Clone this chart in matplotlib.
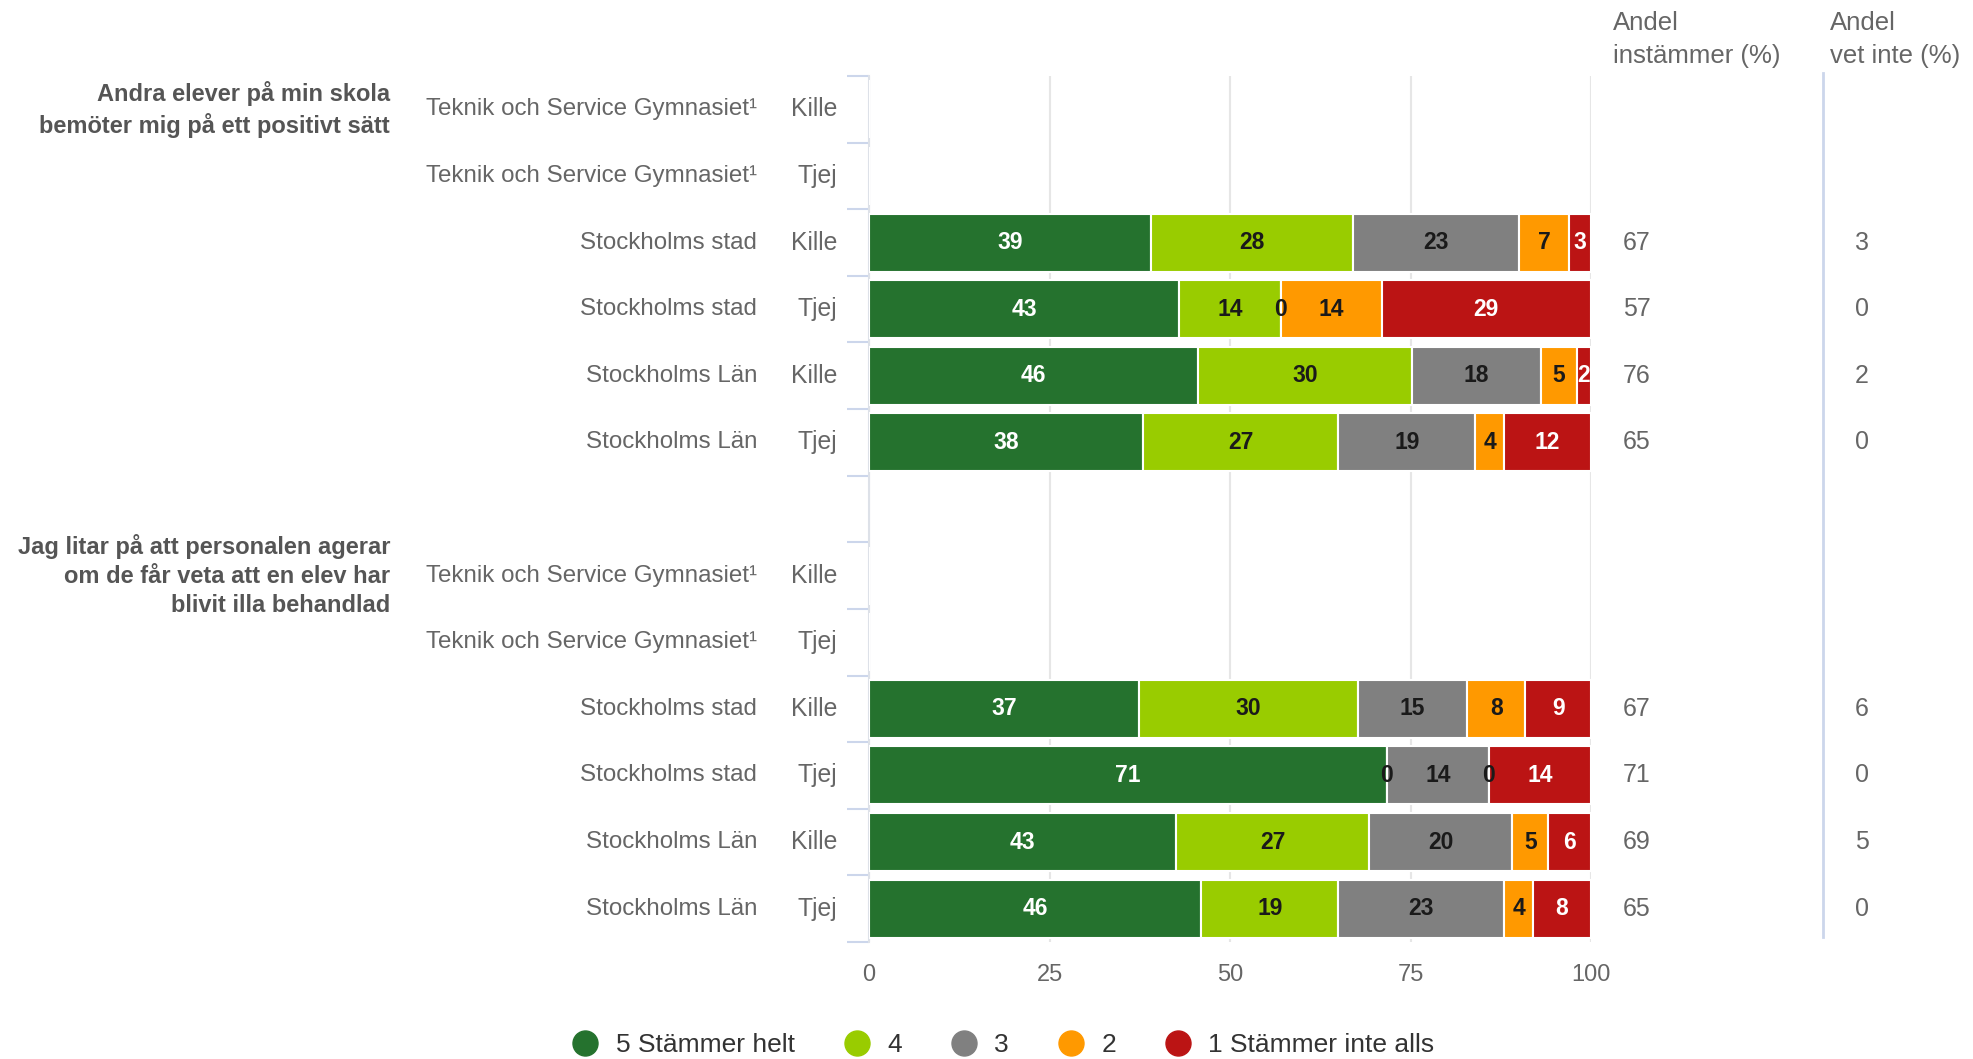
import numpy as np
import matplotlib.pyplot as plt
from matplotlib.lines import Line2D
from matplotlib.transforms import blended_transform_factory

plt.rcParams['font.family'] = ['Liberation Sans', 'DejaVu Sans']

# --- data -------------------------------------------------------------
groups = [
    "Andra elever på min skola\nbemöter mig på ett positivt sätt",
    "Jag litar på att personalen agerar\nom de får veta att en elev har\nblivit illa behandlad",
]
units = ["Teknik och Service Gymnasiet\u00b9", "Teknik och Service Gymnasiet\u00b9",
         "Stockholms stad", "Stockholms stad", "Stockholms Län", "Stockholms Län"] * 2
genders = ["Kille", "Tjej"] * 6

nan = np.nan
s5 = [nan, nan, 39, 43, 46, 38, nan, nan, 37, 71, 43, 46]
s4 = [nan, nan, 28, 14, 30, 27, nan, nan, 30, 0, 27, 19]
s3 = [nan, nan, 23, 0, 18, 19, nan, nan, 15, 14, 20, 23]
s2 = [nan, nan, 7, 14, 5, 4, nan, nan, 8, 0, 5, 4]
s1 = [nan, nan, 3, 29, 2, 12, nan, nan, 9, 14, 6, 8]
instammer = [None, None, 67, 57, 76, 65, None, None, 67, 71, 69, 65]
vet_inte = [None, None, 3, 0, 2, 0, None, None, 6, 0, 5, 0]

series_names = ["5 Stämmer helt", "4", "3", "2", "1 Stämmer inte alls"]
colors = ["#25722E", "#99CC00", "#808080", "#FF9900", "#BB1414"]
label_colors = ["white", "#1a1a1a", "#1a1a1a", "#1a1a1a", "white"]

# --- layout -----------------------------------------------------------
W, H = 1973, 1059
fig = plt.figure(figsize=(W / 100, H / 100), dpi=100)
ax = fig.add_axes([869 / W, 1 - 942 / H, (1591 - 869) / W, (942 - 76) / H])

ypos = np.array([0, 1, 2, 3, 4, 5, 7, 8, 9, 10, 11, 12])
vals = np.array([s5, s4, s3, s2, s1], dtype=float)
totals = np.nansum(vals, axis=0)
totals[totals == 0] = 1
widths = vals / totals * 100

left = np.zeros(len(ypos))
for i in range(5):
    w = np.nan_to_num(widths[i])
    ax.barh(ypos, w, left=left, height=0.87, color=colors[i],
            edgecolor="white", linewidth=1.5, zorder=3)
    for j in range(len(ypos)):
        if not np.isnan(vals[i, j]):
            ax.text(left[j] + w[j] / 2, ypos[j], f"{int(vals[i, j])}",
                    ha="center", va="center", fontsize=16.5, fontweight="bold",
                    color=label_colors[i], zorder=4)
    left = left + w

ax.set_xlim(0, 100)
ax.set_ylim(12.5, -0.5)
ax.set_xticks([0, 25, 50, 75, 100])
ax.tick_params(axis="x", length=0, pad=16, labelsize=17, labelcolor="#666666")
ax.set_yticks(list(np.arange(-0.5, 6, 1)) + list(np.arange(6.5, 13, 1)))
ax.set_yticklabels([])
ax.tick_params(axis="y", length=16, width=1.5, color="#ccd6eb")
ax.grid(axis="x", color="#e6e6e6", linewidth=1.5, zorder=0)
for s in ["top", "bottom", "right"]:
    ax.spines[s].set_visible(False)
ax.spines["left"].set_color("#dde1e8")
ax.spines["left"].set_linewidth(1.5)

# text columns
tr = blended_transform_factory(fig.transFigure, ax.transData)
for j, y in enumerate(ypos):
    ax.text(837 / W, y, genders[j], transform=tr, ha="right", va="center",
            fontsize=17.8, color="#666666")
    ax.text(757 / W, y, units[j], transform=tr, ha="right", va="center",
            fontsize=17.4, color="#666666")
    if instammer[j] is not None:
        ax.text(1637 / W, y, str(instammer[j]), transform=tr, ha="center",
                va="center", fontsize=18, color="#666666")
        ax.text(1862 / W, y, str(vet_inte[j]), transform=tr, ha="center",
                va="center", fontsize=18, color="#666666")

for g, y in zip(groups, [0, 7]):
    ax.text(390 / W, y, g, transform=tr, ha="right", va="center",
            fontsize=17, fontweight="bold", color="#555555", linespacing=1.35)

fig.text(1613 / W, 1 - 11 / H, "Andel\ninstämmer (%)", ha="left", va="top",
         fontsize=18.5, color="#666666", linespacing=1.45)
fig.text(1830 / W, 1 - 11 / H, "Andel\nvet inte (%)", ha="left", va="top",
         fontsize=18.5, color="#666666", linespacing=1.45)

fig.add_artist(Line2D([1823 / W, 1823 / W], [1 - 73 / H, 1 - 937 / H],
                      transform=fig.transFigure, color="#ccd6eb", linewidth=2))

handles = [Line2D([], [], marker="o", linestyle="", markersize=18,
                  color=c) for c in colors]
fig.legend(handles, series_names, loc="center", ncol=5,
           bbox_to_anchor=(1002 / W, 1 - 1045 / H), frameon=False,
           fontsize=19, labelcolor="#333333", handletextpad=0.55,
           columnspacing=1.75, handlelength=1.2)

fig.savefig("out.png", dpi=100)
